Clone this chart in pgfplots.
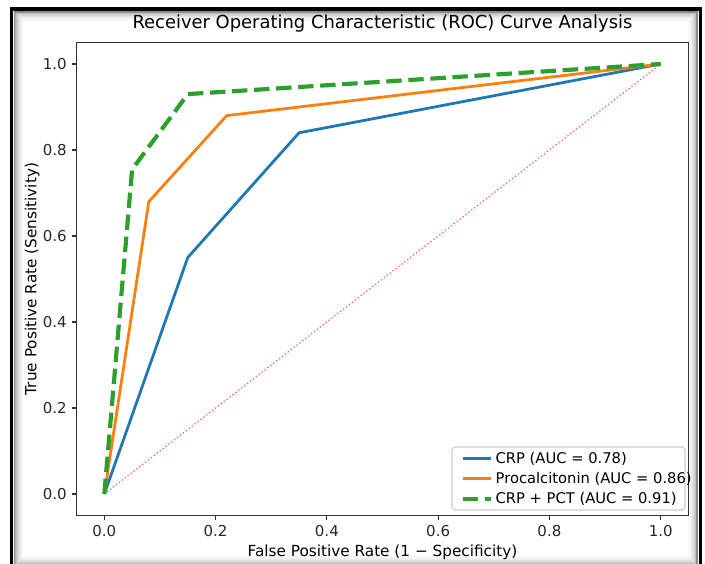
\documentclass[border=0pt]{standalone}
\usepackage{fontspec}
\setmainfont{DejaVu Sans}
\usepackage{pgfplots}
\pgfplotsset{compat=1.18}

\definecolor{c0}{HTML}{1F77B4}
\definecolor{c1}{HTML}{FF7F0E}
\definecolor{c2}{HTML}{2CA02C}
\definecolor{spine}{HTML}{333333}

\begin{document}
\begin{tikzpicture}
% 1 px of the reference = 0.72pt; axis box south west at the origin
\useasboundingbox (-55.08pt,-34.2pt) rectangle (452.52pt,371.16pt);

% outer frame with an inner shadow
\foreach \i/\op in {1/30,2/24,3/19,4/15,5/11,6/8,7/5,8/3} {
  \draw[black!\op, line width=0.8pt]
    (-44.64pt+\i*0.72pt,362.52pt-\i*0.72pt) rectangle (446.76pt-\i*0.72pt,-35.6pt+\i*0.72pt);
}
\draw[black!45, line width=1pt] (-44.64pt,362.52pt) rectangle (446.76pt,-35.6pt);
\draw[black, line width=2.3pt] (-46.8pt,364.68pt) rectangle (449.28pt,-38pt);

\begin{axis}[
  scale only axis,
  at={(0,0)}, anchor=south west,
  width=440.64pt,
  height=340.56pt,
  xmin=-0.05, xmax=1.05,
  ymin=-0.05, ymax=1.05,
  xtick={0,0.2,0.4,0.6,0.8,1},
  ytick={0,0.2,0.4,0.6,0.8,1},
  tick align=outside,
  major tick length=3.5pt,
  tick style={spine, line width=0.8pt},
  axis line style={spine, line width=0.8pt},
  xtick pos=bottom, ytick pos=left,
  tick label style={font=\fontsize{10.8}{13}\selectfont, text=black!85},
  /pgf/number format/assume math mode=true,
  /pgf/number format/fixed,
  /pgf/number format/fixed zerofill,
  /pgf/number format/precision=1,
  title={Receiver Operating Characteristic (ROC) Curve Analysis},
  title style={font=\fontsize{12.9}{15}\selectfont, yshift=-2pt},
  xlabel={False Positive Rate (1 − Specificity)},
  ylabel={True Positive Rate (Sensitivity)},
  xlabel style={font=\fontsize{11}{13}\selectfont, yshift=1pt},
  ylabel style={font=\fontsize{11}{13}\selectfont, yshift=-4.5pt},
  legend style={at={(axis description cs:1,0)}, anchor=south east, xshift=8.5pt, yshift=3pt,
    font=\fontsize{10.6}{13}\selectfont, draw=none, fill=none,
    inner xsep=4pt, inner ysep=2pt, row sep=1pt},
  legend cell align=left,
  legend image code/.code={\draw[#1] (0pt,0pt) -- (20pt,0pt);},
]
% legend frame
\draw[black!20, fill=white, line width=0.8pt, rounded corners=2.5pt]
  (axis description cs:0.6136,0.0116) rectangle (axis description cs:0.9943,0.1448);
\addplot[c0, line width=2pt] coordinates {
  (0,0) (0.15,0.55) (0.35,0.84) (1,1)
};
\addlegendentry{CRP (AUC = 0.78)}
\addplot[c1, line width=2pt] coordinates {
  (0,0) (0.08,0.68) (0.22,0.88) (1,1)
};
\addlegendentry{Procalcitonin (AUC = 0.86)}
\addplot[c2, line width=3pt, dash pattern=on 11.1pt off 4.8pt] coordinates {
  (0,0) (0.05,0.755) (0.15,0.93) (1,1)
};
\addlegendentry{CRP + PCT (AUC = 0.91)}
\addplot[red!80, line width=0.8pt, dash pattern=on 1pt off 1.65pt, opacity=0.8, forget plot] coordinates {
  (0,0) (1,1)
};
\end{axis}
\end{tikzpicture}
\end{document}
